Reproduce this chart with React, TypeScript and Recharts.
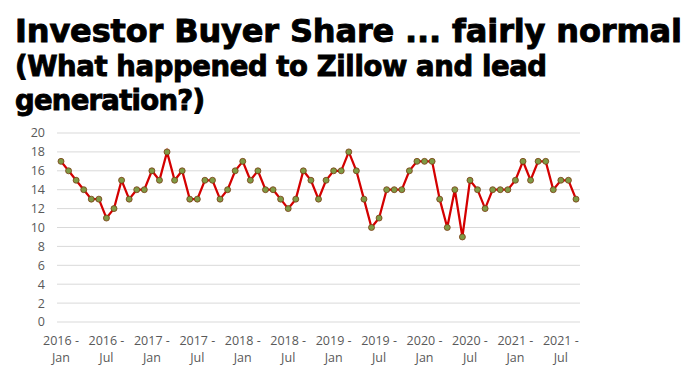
import React from "react";
import { LineChart, Line, XAxis, YAxis, CartesianGrid } from "recharts";

const categories: string[] = [
  "2016 - Jan","2016 - Feb","2016 - Mar","2016 - Apr","2016 - May","2016 - Jun",
  "2016 - Jul","2016 - Aug","2016 - Sep","2016 - Oct","2016 - Nov","2016 - Dec",
  "2017 - Jan","2017 - Feb","2017 - Mar","2017 - Apr","2017 - May","2017 - Jun",
  "2017 - Jul","2017 - Aug","2017 - Sep","2017 - Oct","2017 - Nov","2017 - Dec",
  "2018 - Jan","2018 - Feb","2018 - Mar","2018 - Apr","2018 - May","2018 - Jun",
  "2018 - Jul","2018 - Aug","2018 - Sep","2018 - Oct","2018 - Nov","2018 - Dec",
  "2019 - Jan","2019 - Feb","2019 - Mar","2019 - Apr","2019 - May","2019 - Jun",
  "2019 - Jul","2019 - Aug","2019 - Sep","2019 - Oct","2019 - Nov","2019 - Dec",
  "2020 - Jan","2020 - Feb","2020 - Mar","2020 - Apr","2020 - May","2020 - Jun",
  "2020 - Jul","2020 - Aug","2020 - Sep","2020 - Oct","2020 - Nov","2020 - Dec",
  "2021 - Jan","2021 - Feb","2021 - Mar","2021 - Apr","2021 - May","2021 - Jun",
  "2021 - Jul","2021 - Aug","2021 - Sep",
];

const investorShare: number[] = [
  17, 16, 15, 14, 13, 13, 11, 12, 15, 13, 14, 14,
  16, 15, 18, 15, 16, 13, 13, 15, 15, 13, 14, 16,
  17, 15, 16, 14, 14, 13, 12, 13, 16, 15, 13, 15,
  16, 16, 18, 16, 13, 10, 11, 14, 14, 14, 16, 17,
  17, 17, 13, 10, 14, 9, 15, 14, 12, 14, 14, 14,
  15, 17, 15, 17, 17, 14, 15, 15, 13,
];

const yTicks: number[] = [0, 2, 4, 6, 8, 10, 12, 14, 16, 18, 20];

const titleLines: string[] = [
  "Investor Buyer Share ... fairly normal",
  "(What happened to Zillow and lead",
  "generation?)",
];

const data = categories.map((c, i) => ({ month: c, share: investorShare[i] }));

const XTick = (props: any) => {
  const { x, y, payload } = props;
  const parts = String(payload.value).split(" - ");
  const style = { fill: "#595959", fontSize: 12.5, fontFamily: "'Open Sans', sans-serif" };
  return (
    <g>
      <text x={x} y={y + 15} textAnchor="middle" {...style}>{parts[0] + " -"}</text>
      <text x={x} y={y + 32} textAnchor="middle" {...style}>{parts[1]}</text>
    </g>
  );
};

export default function App() {
  const tStyle = {
    fontFamily: "'DejaVu Sans', sans-serif",
    fontWeight: 700,
    fill: "#000",
    stroke: "#000",
    strokeWidth: 0.9,
  } as const;
  return (
    <div style={{ position: "absolute", left: 0, top: 0, width: 690, height: 380, background: "#fff" }}>
      <svg width={690} height={125} style={{ position: "absolute", left: 0, top: 0 }}>
        <text x={15} y={42} fontSize={32} textLength={667} lengthAdjust="spacing" {...tStyle}>{titleLines[0]}</text>
        <text x={15} y={76} fontSize={27.5} textLength={532} lengthAdjust="spacing" {...tStyle}>{titleLines[1]}</text>
        <text x={15} y={110} fontSize={27.5} textLength={190} lengthAdjust="spacing" {...tStyle}>{titleLines[2]}</text>
      </svg>
      <div style={{ position: "absolute", left: 0, top: 0 }}>
        <LineChart width={690} height={380} data={data} margin={{ top: 133, right: 110, bottom: 0, left: 17 }}>
          <CartesianGrid vertical={false} stroke="#d9d9d9" strokeWidth={1} />
          <XAxis
            dataKey="month"
            interval={5}
            axisLine={false}
            tickLine={false}
            tick={<XTick />}
            height={58}
            padding={{ left: 4, right: 4 }}
          />
          <YAxis
            domain={[0, 20]}
            ticks={yTicks}
            interval={0}
            axisLine={false}
            tickLine={false}
            tickSize={0}
            tickMargin={12}
            width={40}
            tick={{ fill: "#595959", fontSize: 12.5, fontFamily: "'Open Sans', sans-serif" }}
          />
          <Line
            type="linear"
            dataKey="share"
            stroke="#d40000"
            strokeWidth={2.25}
            dot={{ r: 3, fill: "#7f9a45", stroke: "#7a3b10", strokeWidth: 0.8 }}
            isAnimationActive={false}
          />
        </LineChart>
      </div>
    </div>
  );
}
